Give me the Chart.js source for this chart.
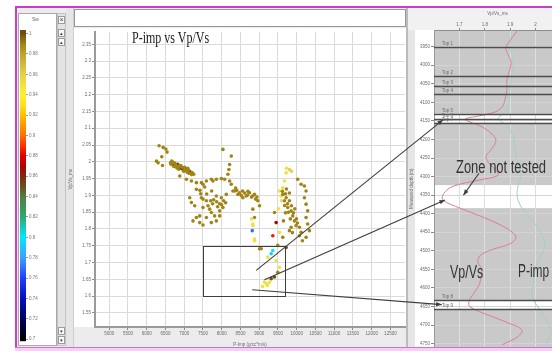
<!DOCTYPE html>
<html lang="en">
<head>
<meta charset="utf-8">
<title>P-imp vs Vp/Vs</title>
<script src="https://cdn.jsdelivr.net/npm/chart.js@4.4.1/dist/chart.umd.min.js"></script>
<style>
  html, body { margin: 0; padding: 0; }
  body { position: relative; width: 552px; height: 351px; overflow: hidden; background: #fff;
         font-family: "Liberation Sans", Arial, sans-serif; }
  .box { position: absolute; box-sizing: border-box; }
  .btn { position: absolute; box-sizing: border-box; width: 7px; height: 8px; background: #fafafa;
         border: 1px solid #9c9c9c; font-size: 7px; line-height: 6px; text-align: center; color: #333; }
  canvas { position: absolute; display: block; z-index: 2; }
  .note { position: absolute; white-space: nowrap; line-height: 1; transform-origin: 0 0; color: #333; z-index: 5; }
  .frame { position: absolute; z-index: 8; }
</style>
</head>
<body>
<!-- window chrome of the crossplot pane -->
<div class="box" style="left:17px;top:8px;width:391px;height:340px;background:#ebebeb"></div>
<div class="box" style="left:18px;top:13px;width:39px;height:333px;background:#fff;border:1px solid #a9a9a9"></div>
<div class="box" style="left:57px;top:13px;width:9px;height:333px;background:#e3e3e3;border:1px solid #c2c2c2"></div>
<div class="btn" style="left:58px;top:16px;">×</div>
<div class="btn" style="left:58px;top:29px;font-size:5px">▴</div>
<div class="btn" style="left:58px;top:38px;font-size:5px">▴</div>
<div class="btn" style="left:58px;top:327px;font-size:5px">▾</div>
<div class="btn" style="left:58px;top:336px;font-size:5px">▾</div>
<div class="box" style="left:66px;top:8px;width:8px;height:340px;background:#e5e5e5;border-right:1px solid #cfcfcf"></div>
<div class="box" style="left:74px;top:9px;width:332px;height:18px;background:#fff;border:1px solid #979797"></div>
<div class="box" style="left:74px;top:28px;width:333px;height:299px;background:#fff"></div>
<div class="box" style="left:74px;top:327px;width:333px;height:21px;background:#ececec"></div>
<div class="box" style="left:406px;top:8px;width:2px;height:340px;background:#bcbcbc"></div>
<!-- well log pane -->
<div class="box" style="left:408px;top:8px;width:144px;height:22px;background:#f1f1f1"></div>
<div class="box" style="left:408px;top:30px;width:7px;height:318px;background:#e6e6e6"></div>
<div class="box" style="left:415px;top:30px;width:19px;height:318px;background:#fff"></div>

<canvas id="swBar" width="37" height="331" style="left:19px;top:14px"></canvas>
<canvas id="cross" width="340" height="320" style="left:67px;top:28px"></canvas>
<canvas id="log" width="153" height="342" style="left:408px;top:9px"></canvas>

<div class="note" style="left:32px;top:17px;font-size:5px;color:#666">Sw</div>
<div class="note" style="left:132px;top:30px;font-family:'Liberation Serif','Times New Roman',serif;font-size:16px;color:#222;transform:scaleX(0.75)">P-imp vs Vp/Vs</div>
<div class="note" style="left:456px;top:158px;font-size:18px;transform:scaleX(0.72)">Zone not tested</div>
<div class="note" style="left:450px;top:263px;font-size:18px;transform:scaleX(0.69)">Vp/Vs</div>
<div class="note" style="left:518px;top:262px;font-size:18px;transform:scaleX(0.66)">P-imp</div>

<canvas id="links" width="552" height="351" style="left:0;top:0;z-index:6;pointer-events:none"></canvas>

<div class="frame" style="left:15px;top:6px;width:537px;height:2px;background:#c63fc6"></div>
<div class="frame" style="left:15px;top:6px;width:2px;height:345px;background:#c63fc6"></div>
<div class="frame" style="left:15px;top:347px;width:537px;height:1px;background:#d070d0"></div>
<div class="frame" style="left:15px;top:348px;width:537px;height:3px;background:#f2d2f2"></div>

<script>
// ---- Sw colour scale ----
const swStops  = [0.70, 0.72, 0.74, 0.76, 0.78, 0.80, 0.82, 0.84, 0.85, 0.86, 0.87,
                  0.88, 0.89, 0.90, 0.92, 0.93, 0.94, 0.96, 0.98, 0.99, 1.00];
const swColors = ['#000000', '#00005c', '#0010c0', '#2040ff', '#40a0ff', '#00e8ff', '#30a870',
                  '#508040', '#6a5020', '#802810', '#b00000', '#e00000', '#ff3000', '#ff7000',
                  '#ffc000', '#ffe020', '#fff030', '#e8d048', '#bfa030', '#a08514', '#6a5010'];
const swTicks  = [0.7, 0.72, 0.74, 0.76, 0.78, 0.8, 0.82, 0.84, 0.86, 0.88, 0.9, 0.92, 0.94, 0.96, 0.98, 1];
const swRange  = [0.698, 1.0035];

// ---- Crossplot samples: P-impedance, Vp/Vs and water saturation ----
const pImp = [
  6330, 6437, 6509, 6543, 6402, 6261, 6304, 6421,
  6634, 6668, 6703, 6748, 6793, 6828, 6881, 6908, 6969, 7014,
  7059, 7094, 7147, 7174, 7219, 7253, 7120, 6987, 6854, 6721,
  6650, 6690, 6770, 6840, 6930, 7040, 7110, 7200, 7080, 6950, 6800,
  6881, 7059, 7192, 7325, 7458, 7591, 7724, 7857, 7990, 8078, 8211,
  8256, 8299, 8477, 8610, 8743, 8876, 8964, 9009, 8371, 8557, 8690,
  8796, 8903, 8655, 8565, 8432, 8344, 8400, 8520, 8700, 8830, 8940,
  8033, 8256, 8211, 8192, 8166,
  7325, 7147, 7192, 7280, 7458, 7501, 7591, 7634, 7679, 7724, 7812,
  7945, 8033, 7857, 7990, 8123, 7413, 7325, 7235, 7413, 7501,
  7785, 7865, 7945, 8051, 7759, 7892, 7998, 8105, 7706, 7599, 7732, 7546,
  7501, 7591, 7724, 7857, 7945, 7501, 7767, 7420, 7440,
  8831, 8876, 8800, 8831, 8831, 8815, 8876, 8876, 9009,
  9807, 9719, 9674, 9629, 9586, 9727, 9860, 9541, 9594, 9514,
  10028, 10118, 10206, 10251, 10206, 10251, 10294, 10251, 10294, 10339, 10251, 10153, 10073,
  9629, 9719, 9807, 9762, 9852, 9895, 9940, 9985, 10073, 10118, 9852, 9807,
  9674, 9754, 9860, 9913, 9993, 9701, 9647, 9887, 10020, 9727, 9807,
  9680, 9780, 9830, 9950, 9700, 9620,
  9408, 9453, 9363, 9541, 9629, 9363, 9320, 9230, 9496, 9719, 9054,
  9453, 9541, 9496, 9408, 9320, 9187, 9142, 9222, 9089, 9275
];
const vpVs = [
  2.048, 2.043, 2.038, 2.029, 2.015, 2.002, 1.997, 1.989,
  1.997, 2.002, 1.992, 1.996, 1.987, 1.993, 1.982, 1.989, 1.977, 1.984,
  1.974, 1.981, 1.972, 1.965, 1.967, 1.963, 1.966, 1.972, 1.978, 1.986,
  1.993, 1.999, 1.991, 1.986, 1.980, 1.976, 1.975, 1.962, 1.969, 1.984, 1.982,
  1.958, 1.948, 1.943, 1.938, 1.938, 1.943, 1.948, 1.948, 1.950, 1.948, 1.943,
  1.933, 1.913, 1.908, 1.907, 1.908, 1.903, 1.884, 1.869, 1.922, 1.913, 1.901,
  1.895, 1.889, 1.898, 1.893, 1.903, 1.913, 1.915, 1.900, 1.912, 1.899, 1.895,
  2.037, 2.017, 1.992, 1.977, 1.963,
  1.918, 1.893, 1.879, 1.869, 1.893, 1.889, 1.884, 1.869, 1.859, 1.849, 1.839,
  1.854, 1.864, 1.898, 1.893, 1.903, 1.839, 1.834, 1.824, 1.819, 1.812,
  1.887, 1.881, 1.875, 1.884, 1.875, 1.866, 1.872, 1.878, 1.884, 1.904, 1.913, 1.925,
  1.864, 1.834, 1.819, 1.824, 1.839, 1.933, 1.943, 1.915, 1.905,
  1.859, 1.834, 1.830, 1.815, 1.810, 1.795, 1.770, 1.765, 1.741,
  1.977, 1.967, 1.943, 1.923, 1.898, 1.981, 1.972, 1.913, 1.884, 1.860,
  1.948, 1.933, 1.928, 1.913, 1.893, 1.874, 1.854, 1.834, 1.815, 1.795, 1.775, 1.765, 1.780,
  1.903, 1.893, 1.884, 1.864, 1.854, 1.839, 1.824, 1.810, 1.805, 1.790, 1.805, 1.795,
  1.884, 1.875, 1.869, 1.848, 1.830, 1.848, 1.824, 1.789, 1.818, 1.919, 1.907,
  1.870, 1.850, 1.830, 1.860, 1.905, 1.912,
  1.849, 1.819, 1.780, 1.790, 1.775, 1.736, 1.726, 1.716, 1.751, 1.745, 1.741,
  1.706, 1.686, 1.671, 1.657, 1.652, 1.637, 1.642, 1.632, 1.629, 1.641
];
const sw = [
  .99, .99, .99, .99, .99, .99, .99, .99,
  .99, .99, 1.0, .99, .99, 1.0, .99, .99, .99, .99,
  .99, .99, 1.0, .99, .99, .99, .99, .99, .99, .99,
  .99, .99, .99, .99, 1.0, .99, .99, .99, .99, .99, .99,
  .99, .99, .99, .99, .99, .99, .99, .99, .99, .99, .99,
  .99, .99, .99, .99, .99, .99, .99, .99, .99, .99, .99,
  .99, .99, .99, .99, .99, .99, .99, .99, .99, .99, .99,
  .99, .99, .99, .99, .99,
  .99, .99, .99, .99, .99, .99, .99, .99, .99, .99, .99,
  .99, .99, .99, .99, .99, .99, .99, .99, .99, .99,
  .99, .99, .99, .99, .99, .99, .99, .99, .99, .99, .99, .99,
  .99, .99, .99, .99, .99, .99, .99, .99, .99,
  .99, .99, .95, .95, .95, .77, .95, .95, .99,
  .96, .95, .95, .95, .95, .95, .96, .95, .95, .95,
  .99, .99, .99, .99, .99, .99, .99, .99, .99, .99, .99, .99, .99,
  .99, .99, .99, .99, .99, .99, .99, .99, .99, .99, .99, .99,
  .99, .99, .99, .99, .99, .99, .99, .99, .99, .99, .99,
  .99, .99, .99, .99, .99, .99,
  .99, .87, .885, .95, .99, .80, .79, .95, .99, 1.0, .99,
  .95, .95, .99, 1.0, 1.0, .95, .95, .95, .95, .95
];
const impTicks  = [5000, 5500, 6000, 6500, 7000, 7500, 8000, 8500, 9000, 9500,
                   10000, 10500, 11000, 11500, 12000, 12500];
const vpvsTicks = [1.55, 1.6, 1.65, 1.7, 1.75, 1.8, 1.85, 1.9, 1.95, 2,
                   2.05, 2.1, 2.15, 2.2, 2.25, 2.3, 2.35];
const impRange  = [4620, 12890];
const vpvsRange = [1.508, 2.3876];
// selection window on the crossplot
const boxImp  = [7500, 9700];
const boxVpvs = [1.60, 1.75];

// ---- Well log ----
const logDepth = [3905, 3926, 3953, 3971, 3990, 4011, 4038, 4065, 4091, 4113, 4126, 4137, 4145, 4153,
                  4166, 4185, 4203, 4225, 4246, 4267, 4283, 4297, 4310, 4326, 4345, 4363, 4385, 4406,
                  4427, 4449, 4465, 4481, 4497, 4513, 4531, 4550, 4571, 4593, 4614, 4635, 4651, 4673,
                  4694, 4713, 4731, 4753];
const logVpvs  = [1.931, 1.907, 1.883, 1.891, 1.903, 1.899, 1.887, 1.887, 1.880, 1.868, 1.840, 1.773, 1.722, 1.742,
                  1.789, 1.828, 1.844, 1.828, 1.805, 1.820, 1.844, 1.852, 1.773, 1.675, 1.639, 1.635, 1.702, 1.781,
                  1.852, 1.907, 1.923, 1.899, 1.828, 1.781, 1.773, 1.789, 1.785, 1.777, 1.757, 1.738, 1.742, 1.813,
                  1.891, 1.946, 1.931, 1.868];
const logPimp  = [8528, 8457, 8386, 8528, 8669, 8598, 8457, 8386, 8315, 8244, 8031, 7677, 7535, 7819,
                  8244, 8528, 8669, 8740, 8811, 8953, 9094, 9165, 9094, 8953, 8882, 8953, 9236, 9661,
                  10157, 10512, 10724, 10866, 10795, 10583, 10370, 10157, 10087, 10016, 9945, 10087, 10370, 10724,
                  11079, 11291, 11150, 10937];
const logVpvsTicks = [1.7, 1.8, 1.9, 2];
const depthTicks   = [3950, 4000, 4050, 4100, 4150, 4200, 4250, 4300, 4350, 4400, 4450, 4500,
                      4550, 4600, 4650, 4700, 4750];
const logVpvsRange = [1.6, 2.1];
const logPimpRange = [3000, 12000];
const depthRange   = [3905, 4760];
const topDepths = [3952, 4029, 4056, 4078, 4131, 4145, 4155, 4633, 4657];
const topNames  = ['Top 1', 'Top 2', 'Top 3', 'Top 4', 'Top 5', 'Top 6', 'Top 7', 'Top 8', 'Top 9'];
const whiteBands = [[4131, 4155], [4323, 4385], [4633, 4657]];

// links from the crossplot window to the log (crossplot x/y -> log Vp/Vs / depth)
const linkFrom = [[8921, 1.6765], [9142, 1.649], [8815, 1.619]];
const linkTo   = [[1.6354, 4147], [1.6433, 4363], [1.6303, 4645]];
const zoneArrow = [[1.777, 4291], [1.716, 4350]];

// ---------------------------------------------------------------
Chart.defaults.font.family = '"Liberation Sans", Arial, sans-serif';
const tinyFont = { size: 4.5 };
const fmt = v => String(Math.round(v * 1000) / 1000);
const setTicks = list => scale => { scale.ticks = list.map(v => ({ value: v })); };

function hexRgb(h) {
  const n = parseInt(h.slice(1), 16);
  return [(n >> 16) & 255, (n >> 8) & 255, n & 255];
}
function swColor(v) {
  if (v <= swStops[0]) return swColors[0];
  for (let i = 1; i < swStops.length; i++) {
    if (v <= swStops[i]) {
      const t = (v - swStops[i - 1]) / (swStops[i] - swStops[i - 1]);
      const a = hexRgb(swColors[i - 1]), b = hexRgb(swColors[i]);
      return 'rgb(' + a.map((c, k) => Math.round(c + (b[k] - c) * t)).join(',') + ')';
    }
  }
  return swColors[swColors.length - 1];
}

function arrow(c, x1, y1, x2, y2, head) {
  c.beginPath(); c.moveTo(x1, y1); c.lineTo(x2, y2); c.stroke();
  const a = Math.atan2(y2 - y1, x2 - x1);
  c.beginPath();
  c.moveTo(x2, y2);
  c.lineTo(x2 - head * Math.cos(a - 0.38), y2 - head * Math.sin(a - 0.38));
  c.lineTo(x2 - head * Math.cos(a + 0.38), y2 - head * Math.sin(a + 0.38));
  c.closePath(); c.fill();
}

const base = { responsive: false, animation: false, devicePixelRatio: 1, events: [],
               plugins: { legend: { display: false }, tooltip: { enabled: false } } };

// ---- Sw colour bar ----
new Chart(document.getElementById('swBar'), {
  type: 'bar',
  data: { labels: ['Sw'], datasets: [{
    data: [swRange],
    barPercentage: 1, categoryPercentage: 1, borderWidth: 0,
    backgroundColor(ctx) {
      const chart = ctx.chart;
      if (!chart.chartArea) return swColors[0];
      const y = chart.scales.y;
      const lo = swStops[0], hi = swStops[swStops.length - 1];
      const g = chart.ctx.createLinearGradient(0, y.getPixelForValue(lo), 0, y.getPixelForValue(hi));
      swStops.forEach((s, i) => g.addColorStop((s - lo) / (hi - lo), swColors[i]));
      return g;
    }
  }] },
  options: { ...base,
    layout: { padding: { left: 1, top: 16, bottom: 3, right: 0 } },
    scales: {
      x: { display: false },
      y: { position: 'right', min: swRange[0], max: swRange[1],
           afterBuildTicks: setTicks(swTicks),
           ticks: { font: tinyFont, color: '#777', padding: 1, callback: fmt },
           grid: { drawOnChartArea: false, tickLength: 2, color: '#999' },
           border: { display: false },
           afterFit(s) { s.width = 30; } }
    }
  }
});

// ---- Crossplot ----
const windowBox = {
  id: 'windowBox',
  afterDatasetsDraw(chart) {
    const { ctx, scales: { x, y } } = chart;
    const x0 = x.getPixelForValue(boxImp[0]), x1 = x.getPixelForValue(boxImp[1]);
    const y0 = y.getPixelForValue(boxVpvs[1]), y1 = y.getPixelForValue(boxVpvs[0]);
    ctx.save();
    ctx.strokeStyle = '#3f3f3f'; ctx.lineWidth = 1;
    ctx.strokeRect(Math.round(x0) + 0.5, Math.round(y0) + 0.5, Math.round(x1 - x0), Math.round(y1 - y0));
    ctx.restore();
  }
};
const cross = new Chart(document.getElementById('cross'), {
  type: 'scatter',
  data: { datasets: [{
    data: pImp.map((x, i) => ({ x, y: vpVs[i] })),
    backgroundColor: sw.map(swColor),
    pointRadius: 1.8, pointBorderWidth: 0, pointHoverRadius: 1.8
  }] },
  options: { ...base,
    layout: { padding: { top: 2, right: 2, left: 0, bottom: 0 } },
    scales: {
      x: { type: 'linear', position: 'bottom', min: impRange[0], max: impRange[1],
           afterBuildTicks: setTicks(impTicks),
           ticks: { font: tinyFont, color: '#6b6b6b', padding: 1, maxRotation: 0, autoSkip: false, callback: fmt },
           grid: { color: '#dadada', tickLength: 3, tickColor: '#8a8a8a' },
           border: { color: '#9a9a9a', width: 2 },
           title: { display: true, text: 'P-Imp (g/cc*m/s)', font: tinyFont, color: '#6b6b6b', padding: 1 },
           afterFit(s) { s.height = 21; } },
      y: { type: 'linear', min: vpvsRange[0], max: vpvsRange[1],
           afterBuildTicks: setTicks(vpvsTicks),
           ticks: { font: tinyFont, color: '#6b6b6b', padding: 1, autoSkip: false, callback: fmt },
           grid: { color: '#dadada', tickLength: 3, tickColor: '#8a8a8a' },
           border: { color: '#9a9a9a', width: 2 },
           title: { display: true, text: 'Vp/Vs_ms', font: tinyFont, color: '#6b6b6b', padding: 1 },
           afterFit(s) { s.width = 28; } }
    }
  },
  plugins: [windowBox]
});

// ---- Well log track ----
const track = {
  id: 'track',
  beforeDraw(chart) {
    const { ctx, chartArea: a, scales: { y } } = chart;
    ctx.save();
    ctx.fillStyle = '#c9c9c9';
    ctx.fillRect(a.left, a.top, a.right - a.left, a.bottom - a.top);
    ctx.fillStyle = '#ffffff';
    whiteBands.forEach(([d0, d1]) => {
      const p0 = y.getPixelForValue(d0), p1 = y.getPixelForValue(d1);
      ctx.fillRect(a.left, p0, a.right - a.left, p1 - p0);
    });
    ctx.restore();
  },
  afterDatasetsDraw(chart) {
    const { ctx, chartArea: a, scales: { x, y } } = chart;
    ctx.save();
    ctx.strokeStyle = '#4d4d4d'; ctx.lineWidth = 1.3;
    ctx.fillStyle = '#6a6a6a';
    ctx.font = '4.5px "Liberation Sans", Arial, sans-serif';
    ctx.textBaseline = 'bottom';
    topDepths.forEach((d, i) => {
      const p = Math.round(y.getPixelForValue(d)) + 0.5;
      ctx.beginPath(); ctx.moveTo(a.left, p); ctx.lineTo(a.right, p); ctx.stroke();
      ctx.fillText(topNames[i], a.left + 8, p - 1);
    });
    ctx.strokeStyle = '#3d3d3d'; ctx.fillStyle = '#3d3d3d'; ctx.lineWidth = 1.1;
    arrow(ctx, x.getPixelForValue(zoneArrow[0][0]), y.getPixelForValue(zoneArrow[0][1]),
               x.getPixelForValue(zoneArrow[1][0]), y.getPixelForValue(zoneArrow[1][1]), 6);
    ctx.restore();
  }
};
const wellLog = new Chart(document.getElementById('log'), {
  type: 'line',
  data: { datasets: [
    { label: 'Vp/Vs', xAxisID: 'x', data: logDepth.map((d, i) => ({ x: logVpvs[i], y: d })),
      borderColor: '#d9808f', borderWidth: 1, pointRadius: 0, tension: 0.35, fill: false },
    { label: 'P-imp', xAxisID: 'x2', data: logDepth.map((d, i) => ({ x: logPimp[i], y: d })),
      borderColor: '#9fd3c4', borderWidth: 1, pointRadius: 0, tension: 0.35, fill: false }
  ] },
  options: { ...base,
    layout: { padding: 0 },
    scales: {
      x: { type: 'linear', position: 'top', min: logVpvsRange[0], max: logVpvsRange[1],
           afterBuildTicks: setTicks(logVpvsTicks),
           ticks: { font: tinyFont, color: '#6b6b6b', padding: 1, maxRotation: 0, callback: fmt },
           grid: { color: '#dedede', tickLength: 2, tickColor: '#8a8a8a' },
           border: { color: '#8c8c8c' },
           title: { display: true, text: 'Vp/Vs_ms', font: tinyFont, color: '#6b6b6b', padding: 2 },
           afterFit(s) { s.height = 21; } },
      x2: { type: 'linear', display: false, min: logPimpRange[0], max: logPimpRange[1] },
      y: { type: 'linear', reverse: true, min: depthRange[0], max: depthRange[1],
           afterBuildTicks: setTicks(depthTicks),
           ticks: { font: tinyFont, color: '#6b6b6b', padding: 1, autoSkip: false, callback: fmt },
           grid: { color: '#d4d4d4', tickLength: 3, tickColor: '#8a8a8a' },
           border: { color: '#9a9a9a' },
           title: { display: true, text: 'Measured depth (m)', font: tinyFont, color: '#6b6b6b', padding: 1 },
           afterFit(s) { s.width = 26; } }
    }
  },
  plugins: [track]
});

// ---- Links between the two panes ----
(function drawLinks() {
  const c = document.getElementById('links').getContext('2d');
  const page = (chart, xs, ys, vx, vy) => [
    chart.canvas.offsetLeft + chart.scales[xs].getPixelForValue(vx),
    chart.canvas.offsetTop + chart.scales[ys].getPixelForValue(vy)
  ];
  c.strokeStyle = '#3d3d3d'; c.fillStyle = '#3d3d3d'; c.lineWidth = 1.1;
  linkFrom.forEach((f, i) => {
    const [x1, y1] = page(cross, 'x', 'y', f[0], f[1]);
    const [x2, y2] = page(wellLog, 'x', 'y', linkTo[i][0], linkTo[i][1]);
    arrow(c, x1, y1, x2, y2, 6);
  });
})();
</script>
</body>
</html>
